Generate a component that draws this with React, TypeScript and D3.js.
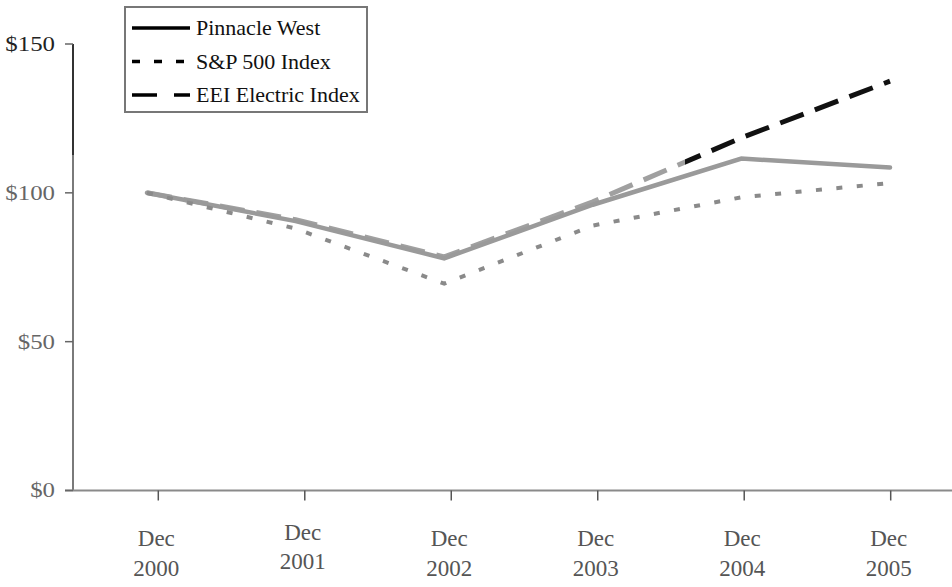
import React from "react";
import * as d3 from "d3";

const years = ["2000", "2001", "2002", "2003", "2004", "2005"];
const pinnacleWest = [100, 90.5, 78, 96, 111.5, 108.5];
const sp500 = [100, 88, 69.5, 89, 98.5, 103.3];
const eeiElectric = [100, 91, 78.5, 97, 118.5, 137.5];
const yTicks = [0, 50, 100, 150];
const legendNames = ["Pinnacle West", "S&P 500 Index", "EEI Electric Index"];

const W = 952;
const H = 587;
const FONT = "'Liberation Serif', 'Times New Roman', serif";

export default function App() {
  const y = d3.scaleLinear().domain([0, 150]).range([490.5, 44]);
  // lines in the source are slightly offset from the tick marks
  const xLine = d3.scaleLinear().domain([0, 5]).range([147, 890]);
  const xTick = d3.scaleLinear().domain([0, 5]).range([158.3, 890.7]);

  const line = d3
    .line<number>()
    .x((_, i) => xLine(i))
    .y((d) => y(d));

  const axisX0 = 73;
  const legendStyles = [
    { dash: "none" },
    { dash: "8 14" },
    { dash: "25 17" },
  ];

  return (
    <svg
      width={W}
      height={H}
      style={{ position: "absolute", left: 0, top: 0, background: "#fff" }}
      fontFamily={FONT}
    >
      <defs>
        <linearGradient id="eeiGrad" gradientUnits="userSpaceOnUse" x1={0} x2={W} y1={0} y2={0}>
          <stop offset={685 / W} stopColor="#a0a0a0" />
          <stop offset={685 / W} stopColor="#111" />
        </linearGradient>
      </defs>
      <rect x={0} y={0} width={W} height={H} fill="#fff" />

      {/* axes */}
      <line x1={axisX0} x2={axisX0} y1={y(150)} y2={y(0)} stroke="#7a7a7a" strokeWidth={2} />
      <line x1={axisX0} x2={axisX0} y1={y(150)} y2={155} stroke="#333" strokeWidth={2} />
      <line x1={axisX0 - 8} x2={W} y1={y(0)} y2={y(0)} stroke="#8a8a8a" strokeWidth={2} />

      {yTicks.map((t) => (
        <g key={t}>
          <line x1={axisX0 - 8} x2={axisX0} y1={y(t)} y2={y(t)} stroke="#666" strokeWidth={1.5} />
          <text
            x={55}
            y={y(t) + 7}
            textAnchor="end"
            fontSize={22}
            fill={t === 150 ? "#222" : "#666"}
            transform={`translate(55,0) scale(1.13,1) translate(-55,0)`}
          >
            {"$" + t}
          </text>
        </g>
      ))}

      {years.map((yr, i) => (
        <g key={yr}>
          <line x1={xTick(i)} x2={xTick(i)} y1={y(0)} y2={y(0) + 10} stroke="#555" strokeWidth={1.5} />
          <text x={xTick(i) - 2} y={i === 1 ? 540 : 546} textAnchor="middle" fontSize={23} fill="#555">
            Dec
          </text>
          <text x={xTick(i) - 2} y={i === 1 ? 569 : 576} textAnchor="middle" fontSize={23} fill="#555">
            {yr}
          </text>
        </g>
      ))}

      {/* series */}
      <path
        d={line(eeiElectric) || ""}
        fill="none"
        stroke="url(#eeiGrad)"
        strokeWidth={5}
        strokeDasharray="25 12"
      />
      <path d={line(pinnacleWest) || ""} fill="none" stroke="#9a9a9a" strokeWidth={4.5} strokeLinecap="round" />
      <path d={line(sp500) || ""} fill="none" stroke="#8a8a8a" strokeWidth={4} strokeDasharray="6 14.5" />

      {/* legend */}
      <rect x={125} y={7} width={242} height={105} fill="#fff" stroke="#777" strokeWidth={2} />
      {legendNames.map((name, i) => {
        const ly = 28 + i * 33.5;
        return (
          <g key={name}>
            <line
              x1={132}
              x2={190}
              y1={ly}
              y2={ly}
              stroke="#000"
              strokeWidth={3.5}
              strokeDasharray={legendStyles[i].dash}
            />
            <text x={196} y={ly + 7} fontSize={22} fill="#111">
              {name}
            </text>
          </g>
        );
      })}
    </svg>
  );
}
